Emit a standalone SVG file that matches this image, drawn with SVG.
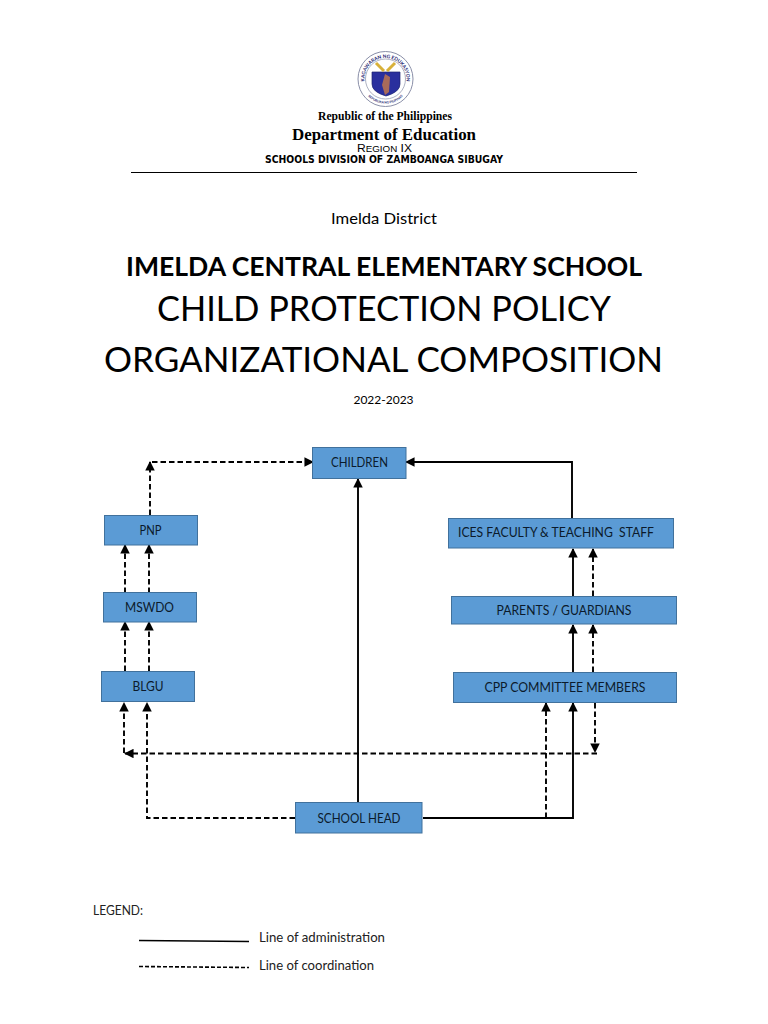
<svg xmlns="http://www.w3.org/2000/svg" width="768" height="1024" viewBox="0 0 768 1024">
<style>
text{font-family:"Lato","Open Sans",sans-serif;fill:#000;text-anchor:middle}
.box{fill:#5b9bd5;stroke:#41719c;stroke-width:1}
.lbl{font-size:12.5px;fill:#0b1a2b}
.ad{fill:none;stroke:#000;stroke-width:1.900}
.co{fill:none;stroke:#000;stroke-width:1.900;stroke-dasharray:5.500 3}
.leg{font-size:12.500px;text-anchor:start;fill:#222}
.seal{font-weight:700;fill:#1c2470}
.serif{font-family:"Liberation Serif",serif;font-weight:700}
</style>
<defs>
<marker id="a" viewBox="0 0 10 10" refX="9" refY="5" markerWidth="5" markerHeight="5" orient="auto-start-reverse"><path d="M0 0L10 5L0 10z" fill="#000"/></marker>
<path id="sealTop" d="M367.300 89.500a21 21 0 1 1 36.400 0"/>
<path id="sealBot" d="M368 96a24 24 0 0 0 35 0"/>
</defs>
<rect width="768" height="1024" fill="#fff"/>
<g id="letterhead">
<circle cx="385.500" cy="79" r="27.500" fill="#fff" stroke="#8a8fa8" stroke-width="1"/>
<circle cx="385.500" cy="79" r="20" fill="#fff" stroke="#8a8fa8" stroke-width=".7"/>
<text class="seal" font-size="4.800"><textPath href="#sealTop" startOffset="50%">KAGAWARAN NG EDUKASYON</textPath></text>
<text class="seal" font-size="3.200"><textPath href="#sealBot" startOffset="50%">REPUBLIKA NG PILIPINAS</textPath></text>
<path d="M372 72h28v12q0 8-14 12q-14-4-14-12z" fill="#2a2f9e" stroke="#1c2470" stroke-width=".7"/>
<path d="M385 74l5 3-1 15-4 3-3-10z" fill="#a86a5a"/>
<path d="M376 63l8 8M395 63l-8 8" stroke="#d8b13a" stroke-width="3" fill="none"/>
<text class="serif" x="385" y="120" font-size="11.500" textLength="134" lengthAdjust="spacingAndGlyphs">Republic of the Philippines</text>
<text class="serif" x="384" y="139.500" font-size="16.500" textLength="184" lengthAdjust="spacingAndGlyphs">Department of Education</text>
<text x="384.500" y="152" font-size="10.500" textLength="55" lengthAdjust="spacingAndGlyphs" style="font-family:'Liberation Sans',sans-serif">R<tspan font-size="8.500">EGION</tspan> IX</text>
<text x="384" y="163" font-size="10" font-weight="700" textLength="238" lengthAdjust="spacingAndGlyphs" style="font-family:'DejaVu Sans',sans-serif">SCHOOLS DIVISION OF ZAMBOANGA SIBUGAY</text>
<path d="M131 172.500H637" stroke="#000" stroke-width="1"/>
</g>
<g id="titles">
<text x="384" y="223.500" font-size="16" textLength="106" lengthAdjust="spacingAndGlyphs">Imelda District</text>
<text x="384" y="276" font-size="26.500" font-weight="700" textLength="516" lengthAdjust="spacingAndGlyphs">IMELDA CENTRAL ELEMENTARY SCHOOL</text>
<text x="384" y="321" font-size="35.500" textLength="454" lengthAdjust="spacingAndGlyphs">CHILD PROTECTION POLICY</text>
<text x="383.500" y="372" font-size="35.500" textLength="559" lengthAdjust="spacingAndGlyphs">ORGANIZATIONAL COMPOSITION</text>
<text x="383.500" y="404" font-size="12">2022-2023</text>
</g>
<g id="connectors">
<path class="ad" d="M358 803V479" marker-end="url(#a)"/>
<path class="ad" d="M572 518V462H406" marker-end="url(#a)"/>
<path class="ad" d="M573 596V549" marker-end="url(#a)"/>
<path class="ad" d="M573 672V625" marker-end="url(#a)"/>
<path class="ad" d="M423 818H573V703" marker-end="url(#a)"/>
<path class="co" d="M546 818V703" marker-end="url(#a)"/>
<path class="co" d="M593 596V549" marker-end="url(#a)"/>
<path class="co" d="M593 672V625" marker-end="url(#a)"/>
<path class="co" d="M595 703V752" marker-end="url(#a)"/>
<path class="co" d="M597 753.500H125" marker-end="url(#a)"/>
<path class="co" d="M124 753V703" marker-end="url(#a)"/>
<path class="co" d="M295 818H147V703" marker-end="url(#a)"/>
<path class="co" d="M125 671V622" marker-end="url(#a)"/>
<path class="co" d="M149 671V622" marker-end="url(#a)"/>
<path class="co" d="M125 593V545" marker-end="url(#a)"/>
<path class="co" d="M149 593V545" marker-end="url(#a)"/>
<path class="co" d="M150 515V462" marker-end="url(#a)"/>
<path class="co" d="M152 462H313" marker-end="url(#a)"/>
</g>
<g id="children"><rect class="box" x="312.500" y="447.500" width="93.500" height="31"/><text class="lbl" x="359.500" y="467" textLength="57" lengthAdjust="spacingAndGlyphs">CHILDREN</text></g>
<g id="pnp"><rect class="box" x="104.500" y="515.500" width="93" height="29.500"/><text class="lbl" x="150.500" y="535" textLength="22" lengthAdjust="spacingAndGlyphs">PNP</text></g>
<g id="mswdo"><rect class="box" x="103.500" y="592.500" width="93" height="29.500"/><text class="lbl" x="149.500" y="612" textLength="49" lengthAdjust="spacingAndGlyphs">MSWDO</text></g>
<g id="blgu"><rect class="box" x="101.500" y="671.500" width="93" height="30"/><text class="lbl" x="148" y="691" textLength="31" lengthAdjust="spacingAndGlyphs">BLGU</text></g>
<g id="faculty"><rect class="box" x="448.500" y="518.500" width="225" height="29.500"/><text class="lbl" x="556" y="537" xml:space="preserve" textLength="196" lengthAdjust="spacingAndGlyphs">ICES FACULTY &amp; TEACHING  STAFF</text></g>
<g id="parents"><rect class="box" x="451.500" y="596.500" width="225" height="27.500"/><text class="lbl" x="564" y="615" textLength="135" lengthAdjust="spacingAndGlyphs">PARENTS / GUARDIANS</text></g>
<g id="committee"><rect class="box" x="453.500" y="672.500" width="223" height="30"/><text class="lbl" x="565" y="692" textLength="161" lengthAdjust="spacingAndGlyphs">CPP COMMITTEE MEMBERS</text></g>
<g id="head"><rect class="box" x="295.500" y="802.500" width="126.500" height="30.500"/><text class="lbl" x="359" y="822.500" textLength="83" lengthAdjust="spacingAndGlyphs">SCHOOL HEAD</text></g>
<g id="legend">
<text class="leg" x="93" y="914.500" textLength="50" lengthAdjust="spacingAndGlyphs">LEGEND:</text>
<path d="M139 940.500L249 941.500" stroke="#000" stroke-width="1.600"/>
<path d="M139 966.500L249 967.500" stroke="#000" stroke-width="1.600" stroke-dasharray="4 2"/>
<text class="leg" x="259" y="942" textLength="126" lengthAdjust="spacingAndGlyphs">Line of administration</text>
<text class="leg" x="259" y="970" textLength="115" lengthAdjust="spacingAndGlyphs">Line of coordination</text>
</g>
</svg>
